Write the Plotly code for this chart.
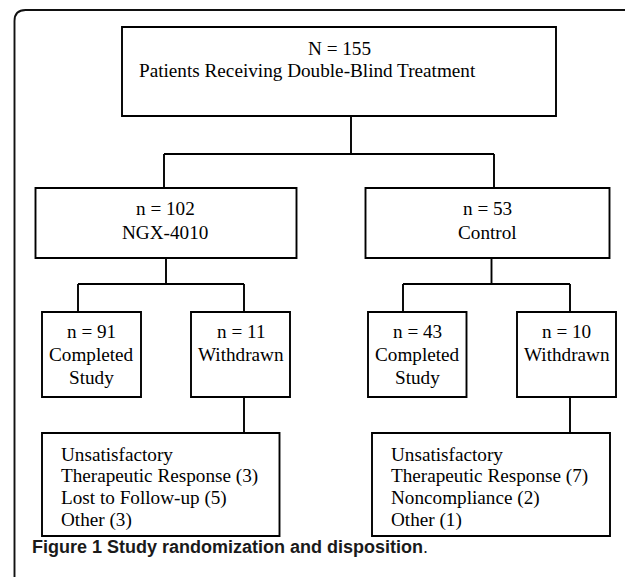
import plotly.graph_objects as go

# ---- data ----
total_n = 155
total_label = "Patients Receiving Double-Blind Treatment"
arm_labels = ["NGX-4010", "Control"]
arm_n = [102, 53]
completed_n = [91, 43]
withdrawn_n = [11, 10]
withdrawal_reasons = [
    ["Unsatisfactory", "Therapeutic Response (3)", "Lost to Follow-up (5)", "Other (3)"],
    ["Unsatisfactory", "Therapeutic Response (7)", "Noncompliance (2)", "Other (1)"],
]
caption_bold = "Figure 1 Study randomization and disposition"

# ---- layout geometry (pixels) ----
W, H = 633, 577
OFF = 8  # page body margin
LW = 1.9
SERIF = "Liberation Serif, Times New Roman, serif"
FS = 19.2

fig = go.Figure()
shapes = []
ann = []

def box(x0, y0, x1, y1):
    shapes.append(dict(type="rect", x0=x0, y0=y0, x1=x1, y1=y1, xref="x", yref="y",
                       line=dict(color="black", width=LW), fillcolor="white", layer="above"))

def line(points):
    path = "M " + " L ".join(f"{x},{y}" for x, y in points)
    shapes.append(dict(type="path", path=path, xref="x", yref="y",
                       line=dict(color="black", width=LW), layer="above"))

def text(x, y, s, anchor="center", size=FS, font=SERIF, color="black"):
    ann.append(dict(x=x, y=y, xref="x", yref="y", text=s, showarrow=False,
                    xanchor=anchor, yanchor="middle", align=anchor if anchor != "center" else "center",
                    font=dict(family=font, size=size, color=color)))

# outer rounded frame
shapes.append(dict(type="path", xref="x", yref="y",
                   path="M 14.5,700 L 14.5,21 Q 14.5,10 25.5,10 L 700,10",
                   line=dict(color="#111111", width=1.9)))

# top box
box(122, 27, 556, 116)
text(339, 48, f"N = {total_n}")
text(137, 70, total_label, anchor="left")

# connectors top -> arms
line([(351, 116), (351, 155)])
line([(164, 154), (494, 154)])
line([(164, 154), (164, 188)])
line([(494, 154), (494, 188)])

arm_boxes = [(35.5, 296.5), (365.5, 609.5)]
arm_centers = [165, 487]
arm_stems = [166, 491.5]
split = [(78, 244), (403, 570)]
sub_boxes = [[(42, 141), (191, 290)], [(368, 466.5), (517, 616)]]
reason_boxes = [(42, 279.5), (372, 610)]

for i in range(2):
    x0, x1 = arm_boxes[i]
    box(x0, 188, x1, 258)
    text(arm_centers[i], 208, f"n = {arm_n[i]}")
    text(arm_centers[i], 232, arm_labels[i])
    line([(arm_stems[i], 258), (arm_stems[i], 284)])
    a, b = split[i]
    line([(a, 284), (b, 284)])
    line([(a, 284), (a, 312)])
    line([(b, 284), (b, 312)])
    (c0, c1), (w0, w1) = sub_boxes[i]
    box(c0, 312, c1, 397)
    box(w0, 312, w1, 397)
    cc = (c0 + c1) / 2
    wc = (w0 + w1) / 2
    text(cc, 331, f"n = {completed_n[i]}")
    text(cc, 354, "Completed")
    text(cc, 377, "Study")
    text(wc, 331, f"n = {withdrawn_n[i]}")
    text(wc, 354, "Withdrawn")
    stem_x = b
    line([(stem_x, 397), (stem_x, 433)])
    r0, r1 = reason_boxes[i]
    box(r0, 433, r1, 536)
    for j, s in enumerate(withdrawal_reasons[i]):
        text(r0 + 16.5, 454 + j * 22, s, anchor="left")

# caption
text(30, 547, f"<b>{caption_bold}</b>.", anchor="left", size=18,
     font="Liberation Sans, Arial, sans-serif", color="#1a1a1a")

fig.update_layout(
    width=W, height=H, margin=dict(l=0, r=0, t=0, b=0),
    paper_bgcolor="white", plot_bgcolor="white",
    xaxis=dict(range=[OFF, W + OFF], visible=False, fixedrange=True),
    yaxis=dict(range=[H + OFF, OFF], visible=False, fixedrange=True),
    shapes=shapes, annotations=ann, showlegend=False,
)
fig.write_html("out.html")
